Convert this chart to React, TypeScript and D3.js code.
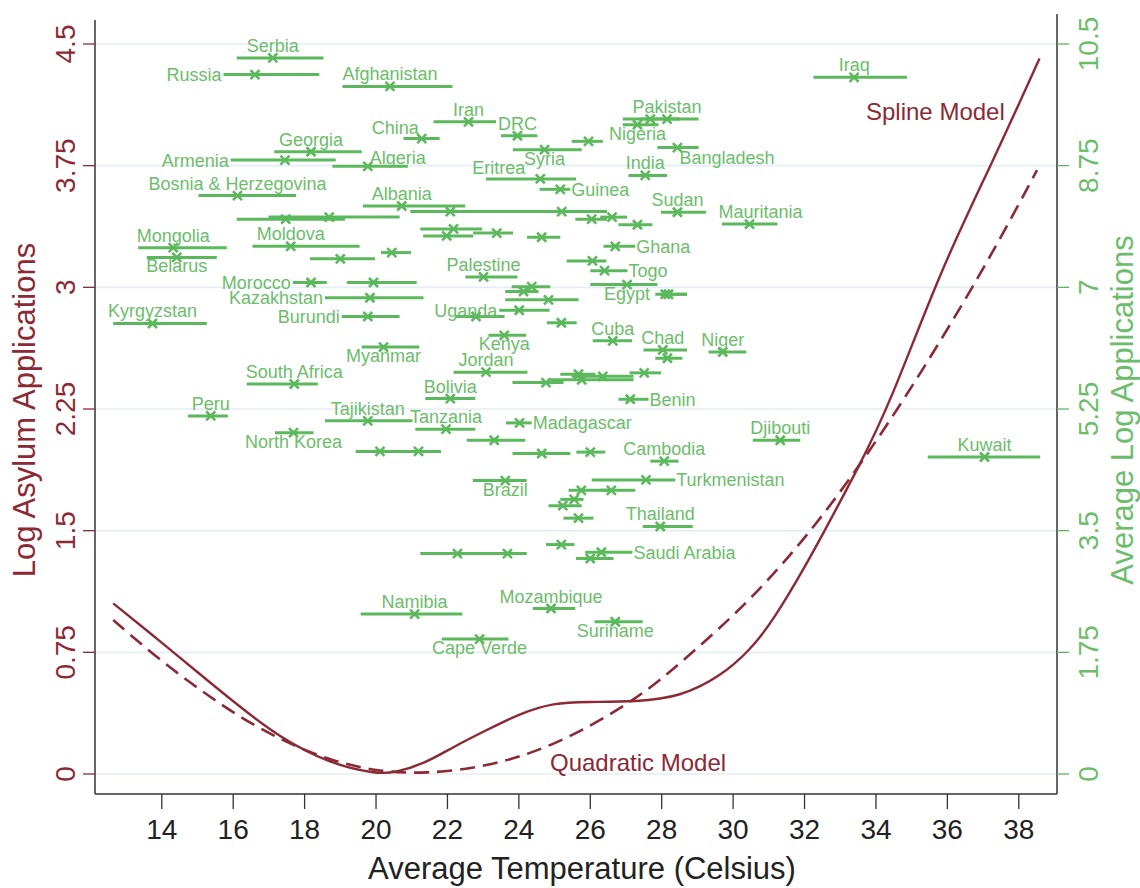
import React from 'react';
import * as d3 from 'd3';

// ---------- data ----------
const countryNames = [
  'Serbia', 'Russia', 'Afghanistan', 'China', 'Georgia', 'Armenia', 'Algeria', 'Bosnia & Herzegovina', 'Albania', '',
  '', '', '', 'Mongolia', 'Belarus', 'Moldova', '', '', '', '',
  '', '', 'Iran', 'DRC', '', 'Syria', 'Eritrea', 'Guinea', 'Pakistan', '',
  'Nigeria', 'Bangladesh', 'India', 'Sudan', 'Mauritania', '', '', '', 'Ghana', '',
  'Togo', 'Palestine', 'Egypt', '', '', '', '', '', 'Uganda', '',
  '', 'Cuba', 'Chad', '', 'Niger', 'Kenya', 'Jordan', '', '', '',
  '', '', 'Bolivia', 'Benin', 'Tanzania', 'Madagascar', '', '', '', '',
  '', 'Cambodia', 'Turkmenistan', 'Brazil', '', '', '', '', '', 'Thailand',
  '', '', '', 'Saudi Arabia', '', 'Namibia', 'Mozambique', 'Suriname', 'Cape Verde', 'Morocco',
  '', 'Kazakhstan', 'Burundi', 'Kyrgyzstan', 'Myanmar', 'South Africa', 'Peru', 'Tajikistan', 'North Korea', 'Iraq',
  'Djibouti', 'Kuwait',
];
const avgTemperature = [
  17.11, 16.61, 20.39, 21.28, 18.18, 17.45, 19.77, 16.12, 20.72, 17.47,
  18.69, 22.08, 25.20, 14.32, 14.42, 17.61, 19.00, 20.44, 22.17, 21.98,
  23.38, 24.64, 22.59, 23.96, 25.95, 24.72, 24.60, 25.16, 28.15, 27.68,
  27.32, 28.44, 27.54, 28.44, 30.46, 26.04, 26.61, 27.32, 26.70, 26.06,
  26.40, 23.01, 27.03, 28.10, 28.19, 24.36, 24.13, 24.83, 24.01, 22.80,
  25.19, 26.63, 28.03, 28.16, 29.71, 23.59, 23.08, 24.76, 25.67, 25.76,
  26.35, 27.51, 22.08, 27.12, 21.96, 24.02, 23.31, 20.11, 21.19, 24.64,
  26.00, 28.07, 27.56, 23.62, 25.75, 26.59, 25.55, 25.23, 25.67, 27.96,
  22.28, 23.68, 25.19, 26.31, 26.00, 21.08, 24.90, 26.70, 22.90, 18.18,
  19.93, 19.83, 19.77, 13.74, 20.21, 17.71, 15.37, 19.77, 17.69, 33.39,
  31.32, 37.04,
];
const tempLow = [
  16.10, 15.73, 19.06, 20.77, 17.15, 15.93, 18.78, 15.03, 19.63, 16.10,
  16.99, 20.96, 22.92, 13.34, 13.58, 16.54, 18.15, 20.14, 21.24, 21.32,
  22.72, 24.23, 21.61, 23.50, 25.48, 23.83, 23.08, 24.58, 27.40, 26.91,
  26.91, 27.88, 27.07, 27.98, 29.69, 25.58, 26.28, 26.79, 26.37, 25.34,
  26.00, 22.50, 26.00, 27.82, 27.96, 23.80, 23.62, 23.62, 23.45, 22.24,
  24.78, 26.07, 27.49, 27.82, 29.31, 23.15, 22.17, 23.82, 25.16, 24.88,
  25.48, 27.10, 21.38, 26.79, 21.10, 23.64, 22.54, 19.43, 20.68, 23.82,
  25.61, 27.68, 26.04, 22.71, 25.39, 26.28, 25.16, 24.83, 25.25, 27.47,
  21.24, 22.78, 24.76, 25.86, 25.60, 19.57, 24.39, 26.12, 21.84, 17.67,
  19.18, 18.57, 19.04, 12.64, 19.60, 16.38, 14.73, 18.57, 17.17, 32.25,
  30.55, 35.45,
];
const tempHigh = [
  18.53, 18.41, 22.14, 21.78, 19.60, 18.87, 20.89, 17.76, 22.50, 19.13,
  20.66, 24.04, 26.47, 15.82, 15.54, 19.54, 19.97, 20.98, 22.97, 22.72,
  23.84, 25.16, 23.36, 24.52, 26.35, 25.76, 25.60, 25.44, 29.03, 28.52,
  27.91, 29.03, 28.15, 29.24, 31.24, 26.47, 27.03, 27.74, 27.26, 26.45,
  27.04, 23.96, 27.88, 28.71, 28.71, 24.88, 24.55, 25.67, 24.86, 23.60,
  25.62, 27.17, 28.71, 28.58, 30.37, 24.20, 24.24, 25.25, 26.14, 27.21,
  27.21, 27.98, 22.78, 27.63, 22.78, 24.36, 24.18, 20.82, 21.82, 25.44,
  26.42, 28.47, 28.38, 24.22, 26.61, 27.26, 25.81, 25.76, 26.09, 28.87,
  23.34, 24.22, 25.56, 27.18, 26.65, 22.42, 25.58, 27.47, 23.71, 18.62,
  21.14, 21.33, 20.66, 15.26, 21.21, 18.37, 15.85, 21.02, 18.25, 34.87,
  31.88, 38.60,
];
const avgLogApplications = [
  10.30, 10.06, 9.89, 9.14, 8.95, 8.83, 8.74, 8.32, 8.17, 7.98,
  8.01, 8.09, 8.09, 7.57, 7.43, 7.59, 7.41, 7.50, 7.84, 7.74,
  7.78, 7.72, 9.38, 9.18, 9.10, 8.98, 8.56, 8.41, 9.42, 9.42,
  9.34, 9.01, 8.61, 8.08, 7.91, 7.98, 8.01, 7.90, 7.59, 7.38,
  7.24, 7.15, 7.04, 6.90, 6.90, 7.01, 6.94, 6.82, 6.67, 6.58,
  6.49, 6.23, 6.10, 5.98, 6.07, 6.31, 5.78, 5.63, 5.75, 5.67,
  5.72, 5.77, 5.40, 5.39, 4.96, 5.05, 4.80, 4.64, 4.64, 4.61,
  4.63, 4.50, 4.23, 4.22, 4.08, 4.08, 3.95, 3.86, 3.68, 3.56,
  3.17, 3.17, 3.30, 3.19, 3.10, 2.30, 2.38, 2.19, 1.94, 7.07,
  7.07, 6.85, 6.58, 6.48, 6.14, 5.61, 5.15, 5.08, 4.91, 10.02,
  4.80, 4.56,
];
// label clock positions (N above, S below, W left of bar, E right of bar, NE/NW/SE corners)
const labelPositions = [
  'N', 'W', 'N', 'NW', 'N', 'W', 'NE', 'N', 'N', '',
  '', '', '', 'N', 'S', 'N', '', '', '', '',
  '', '', 'N', 'N', '', 'S', 'NW', 'E', 'N', '',
  'S', 'SE', 'N', 'N', 'N', '', '', '', 'E', '',
  'E', 'N', 'S', '', '', '', '', '', 'W', '',
  '', 'N', 'N', '', 'N', 'S', 'N', '', '', '',
  '', '', 'N', 'E', 'N', 'E', '', '', '', '',
  '', 'N', 'E', 'S', '', '', '', '', '', 'N',
  '', '', '', 'E', '', 'N', 'N', 'S', 'S', 'W',
  '', 'W', 'W', 'N', 'S', 'N', 'N', 'N', 'S', 'N',
  'N', 'N',
];
// small horizontal label nudges (px), by country
const labelNudge: Record<string, number> = { Eritrea: -12, Mauritania: 11 };

// fitted curves (temperature, log asylum applications)
const splineTemp = [12.64, 14.0, 14.93, 16.15, 17.27, 18.67, 20.0, 20.53, 21.38, 22.17, 23.1, 24.04, 24.97, 25.9, 27.31, 28.52, 29.64, 30.48, 31.13, 32.07, 32.72, 33.47, 34.4, 35.8, 37.29, 38.58];
const splineValue = [1.052, 0.81, 0.64, 0.42, 0.23, 0.066, 0.0, 0.008, 0.066, 0.168, 0.271, 0.374, 0.439, 0.445, 0.445, 0.476, 0.6, 0.764, 0.949, 1.298, 1.565, 1.873, 2.284, 3.105, 3.783, 4.41];
const quadTemp = [12.64, 14.0, 15.87, 17.27, 18.67, 20.0, 21.38, 23.1, 24.97, 27.31, 28.71, 30.48, 32.49, 34.68, 37.01, 38.51];
const quadValue = [0.949, 0.69, 0.39, 0.215, 0.086, 0.016, 0.0, 0.043, 0.168, 0.456, 0.72, 1.065, 1.57, 2.26, 3.105, 3.722];

const xTicks = [14, 16, 18, 20, 22, 24, 26, 28, 30, 32, 34, 36, 38];
const leftTicks = [0, 0.75, 1.5, 2.25, 3, 3.75, 4.5];
const leftTickLabels = ['0', '0.75', '1.5', '2.25', '3', '3.75', '4.5'];
const rightTicks = [0, 1.75, 3.5, 5.25, 7, 8.75, 10.5];
const rightTickLabels = ['0', '1.75', '3.5', '5.25', '7', '8.75', '10.5'];

// ---------- styles ----------
const RED = '#8b2a35';
const GREEN = '#5cb85c';
const GREEN_TEXT = '#6cbd6b';
const GRID = '#e4edf5';
const FONT = '"Liberation Sans", Arial, Helvetica, sans-serif';

const L = 95, R = 1057, T = 20, B = 794;

export default function App() {
  const x = d3.scaleLinear().domain([12.13, 39.07]).range([L, R]);
  const yL = d3.scaleLinear().domain([0, 4.5]).range([774, 44]);
  const yR = d3.scaleLinear().domain([0, 10.5]).range([774, 44]);

  const line = d3
    .line<[number, number]>()
    .x((d) => x(d[0]))
    .y((d) => yL(d[1]))
    .curve(d3.curveBasis);

  const splinePath = line(splineTemp.map((t, i) => [t, splineValue[i]]) as [number, number][]) || '';
  const quadPath = line(quadTemp.map((t, i) => [t, quadValue[i]]) as [number, number][]) || '';

  const labelAttrs = (pos: string, cx: number, cy: number, lo: number, hi: number) => {
    switch (pos) {
      case 'N': return { x: cx, y: cy - 6, anchor: 'middle' };
      case 'S': return { x: cx, y: cy + 15, anchor: 'middle' };
      case 'W': return { x: lo - 2, y: cy + 6.5, anchor: 'end' };
      case 'E': return { x: hi + 1, y: cy + 6.5, anchor: 'start' };
      case 'NE': return { x: cx + 2, y: cy - 2, anchor: 'start' };
      case 'NW': return { x: cx - 3, y: cy - 5, anchor: 'end' };
      case 'SE': return { x: cx + 2, y: cy + 16, anchor: 'start' };
      default: return null;
    }
  };

  const ms = 4.5;

  return (
    <svg
      width={1140}
      height={888}
      style={{ position: 'absolute', left: 0, top: 0, background: '#fff' }}
      fontFamily={FONT}
    >
      <rect x={0} y={0} width={1140} height={888} fill="#fff" />
      {/* gridlines */}
      {leftTicks.map((v) => (
        <line key={'g' + v} x1={L} x2={R} y1={yL(v)} y2={yL(v)} stroke={GRID} strokeWidth={1.6} />
      ))}

      {/* error bars */}
      {avgTemperature.map((t, i) => {
        const cy = yR(avgLogApplications[i]);
        return (
          <line
            key={'b' + i}
            x1={x(tempLow[i])}
            x2={x(tempHigh[i])}
            y1={cy}
            y2={cy}
            stroke={GREEN}
            strokeWidth={3}
          />
        );
      })}
      {/* markers */}
      {avgTemperature.map((t, i) => {
        const cx = x(t);
        const cy = yR(avgLogApplications[i]);
        return (
          <path
            key={'m' + i}
            d={`M${cx - ms},${cy - ms}L${cx + ms},${cy + ms}M${cx - ms},${cy + ms}L${cx + ms},${cy - ms}`}
            stroke={GREEN}
            strokeWidth={2.6}
            fill="none"
          />
        );
      })}
      {/* country labels */}
      {countryNames.map((name, i) => {
        if (!name) return null;
        const a = labelAttrs(
          labelPositions[i],
          x(avgTemperature[i]),
          yR(avgLogApplications[i]),
          x(tempLow[i]),
          x(tempHigh[i])
        );
        if (!a) return null;
        return (
          <text
            key={'l' + i}
            x={a.x + (labelNudge[name] || 0)}
            y={a.y}
            textAnchor={a.anchor as any}
            fontSize={18}
            fill={GREEN_TEXT}
          >
            {name}
          </text>
        );
      })}

      {/* model curves */}
      <path d={quadPath} fill="none" stroke={RED} strokeWidth={2.6} strokeDasharray="15,8" />
      <path d={splinePath} fill="none" stroke={RED} strokeWidth={2.4} />
      <text x={866} y={120} fontSize={24} fill={RED}>Spline Model</text>
      <text x={550} y={771} fontSize={24} fill={RED}>Quadratic Model</text>

      {/* axes */}
      <line x1={L} x2={L} y1={T} y2={B} stroke="#333" strokeWidth={1.5} />
      <line x1={R} x2={R} y1={T - 6} y2={B} stroke="#333" strokeWidth={1.5} />
      <line x1={L} x2={R} y1={B} y2={B} stroke="#333" strokeWidth={1.5} />

      {xTicks.map((t) => (
        <g key={'xt' + t}>
          <line x1={x(t)} x2={x(t)} y1={B} y2={B + 15} stroke="#333" strokeWidth={1.3} />
          <text x={x(t)} y={839} textAnchor="middle" fontSize={28} fill="#222">{t}</text>
        </g>
      ))}
      {leftTicks.map((v, i) => (
        <g key={'lt' + v}>
          <line x1={L - 12} x2={L} y1={yL(v)} y2={yL(v)} stroke={RED} strokeWidth={1.3} />
          <text transform={`translate(75,${yL(v)}) rotate(-90)`} textAnchor="middle" fontSize={28} fill={RED}>
            {leftTickLabels[i]}
          </text>
        </g>
      ))}
      {rightTicks.map((v, i) => (
        <g key={'rt' + v}>
          <line x1={R} x2={R + 12} y1={yR(v)} y2={yR(v)} stroke={GREEN} strokeWidth={1.3} />
          <text transform={`translate(1098,${yR(v)}) rotate(-90)`} textAnchor="middle" fontSize={28} fill={GREEN_TEXT}>
            {rightTickLabels[i]}
          </text>
        </g>
      ))}

      <text x={582} y={879} textAnchor="middle" fontSize={31} fill="#222">Average Temperature (Celsius)</text>
      <text transform="translate(35,410) rotate(-90)" textAnchor="middle" fontSize={31} fill={RED}>
        Log Asylum Applications
      </text>
      <text transform="translate(1133,410) rotate(-90)" textAnchor="middle" fontSize={31} fill={GREEN_TEXT}>
        Average Log Applications
      </text>
    </svg>
  );
}
